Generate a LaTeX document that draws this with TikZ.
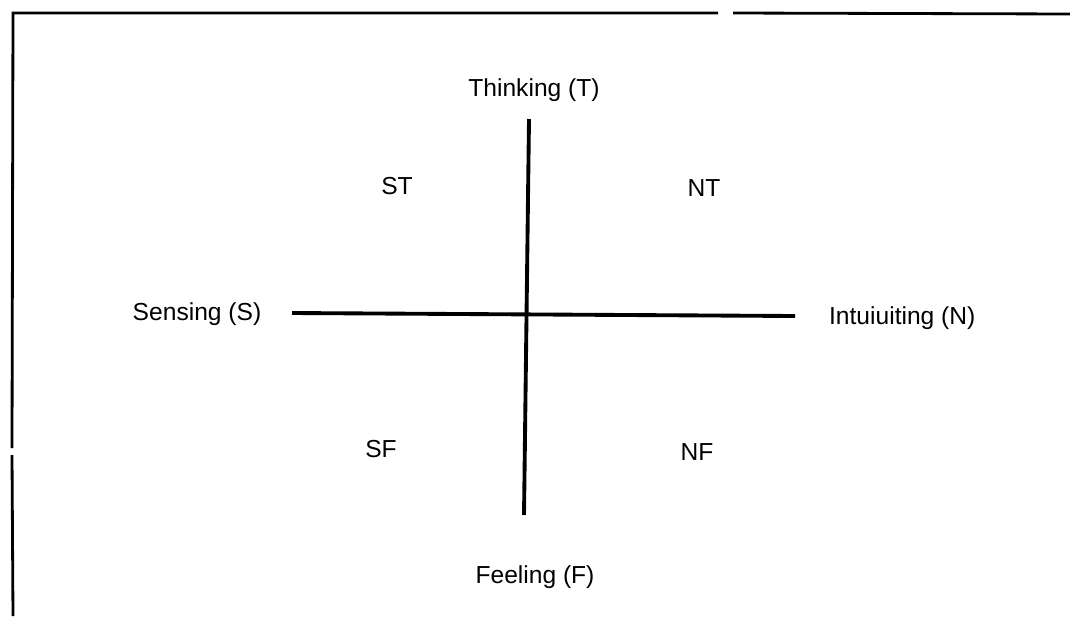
\documentclass[tikz,border=0pt]{standalone}
\usepackage{fontspec}
\setmainfont{Liberation Sans}
\usepackage{tikz}
\usetikzlibrary{positioning, calc}

\begin{document}
\begin{tikzpicture}[x=0.02cm, y=-0.02cm,
        lbl/.style={font=\fontsize{14}{16}\selectfont, inner sep=1pt},
        axis/.style={line width=2.2pt},
        frame/.style={line width=1.6pt}]
            \useasboundingbox (0,0) rectangle (1070,616);
            % frame (top and left only, as scanned)
            \draw[frame] (13,616) -- (12,455);
            \draw[frame] (12,448) -- (13,13) -- (718,13);
            \draw[frame] (733,13) -- (1070,14);

            % axes
            \coordinate (tEnd) at (529,119);
            \coordinate (fEnd) at (524,515);
            \coordinate (sEnd) at (292,313);
            \coordinate (nEnd) at (795,316);
            \draw[axis] (tEnd) -- (fEnd);
            \draw[axis] (sEnd) -- (nEnd);

            % poles
            \node[lbl] (thinking) at (534,90) {Thinking (T)};
            \node[lbl] (feeling) at (535,577) {Feeling (F)};
            \node[lbl] (sensing) at (197,314) {Sensing (S)};
            \node[lbl, anchor=west] (intuit) at (827,318) {Intuiuiting (N)};

            % quadrants
            \node[lbl] (st) at (397,186) {ST};
            \node[lbl] (nt) at (704,188) {NT};
            \node[lbl] (sf) at (381,449) {SF};
            \node[lbl] (nf) at (697,452) {NF};
        \end{tikzpicture}
\end{document}
